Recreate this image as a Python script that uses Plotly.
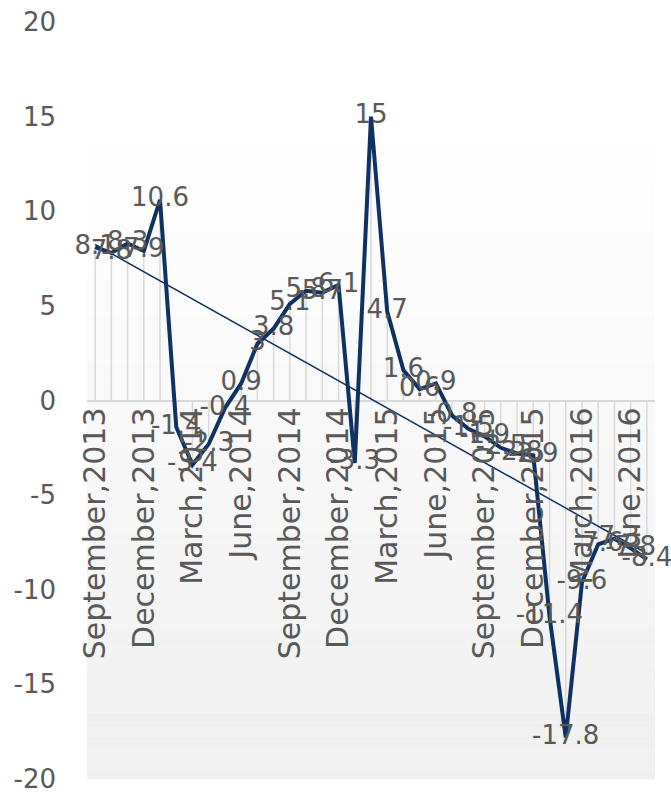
import numpy as np
import plotly.graph_objects as go

# Monthly series, September 2013 – July 2016
months = [
    "September,2013", "October,2013", "November,2013", "December,2013",
    "January,2014", "February,2014", "March,2014", "April,2014", "May,2014",
    "June,2014", "July,2014", "August,2014", "September,2014", "October,2014",
    "November,2014", "December,2014", "January,2015", "February,2015",
    "March,2015", "April,2015", "May,2015", "June,2015", "July,2015",
    "August,2015", "September,2015", "October,2015", "November,2015",
    "December,2015", "January,2016", "February,2016", "March,2016",
    "April,2016", "May,2016", "June,2016", "July,2016",
]
values = [
    8.1, 7.8, 8.3, 7.9,
    10.6, -1.4, -3.4, -2.3, -0.4, 0.9, 3.0, 3.8, 5.1, 5.8, 5.7, 6.1,
    -3.3, 15, 4.7, 1.6, 0.6, 0.9, -0.8, -1.5, -1.9, -2.5, -2.8, -2.9,
    -11.4, -17.8, -9.6, -7.6, -7.3, -7.8, -8.4,
]
# every third month carries an axis label
label_step = 3
y_ticks = [20, 15, 10, 5, 0, -5, -10, -15, -20]

FONT = "DejaVu Sans"
TEXT_GRAY = "#595959"
NAVY = "#0F3263"
DROP_GRAY = "#d9d9d9"

x = list(range(len(months)))

fig = go.Figure()

# gradient plot-area background (white at top, light grey at bottom)
steps = 80
y_lo, y_hi = -20, 20
for k in range(steps):
    y0 = y_lo + (y_hi - y_lo) * k / steps
    y1 = y_lo + (y_hi - y_lo) * (k + 1) / steps
    t = (k + 0.5) / steps  # 0 bottom -> 1 top
    g = int(round(240 + (255 - 240) * min(1.0, t * 1.15)))
    fig.add_shape(type="rect", xref="paper", yref="y", x0=0, x1=1,
                  y0=y0, y1=y1, fillcolor=f"rgb({g},{g},{g})",
                  line=dict(width=0), layer="below")

# drop lines from each point to the zero line
drop_x, drop_y = [], []
for xi, v in zip(x, values):
    drop_x += [xi, xi, None]
    drop_y += [0, v, None]
fig.add_trace(go.Scatter(x=drop_x, y=drop_y, mode="lines",
                         line=dict(color=DROP_GRAY, width=1.5),
                         hoverinfo="skip", showlegend=False))

# main series
fig.add_trace(go.Scatter(x=x, y=values, mode="lines",
                         line=dict(color=NAVY, width=4),
                         showlegend=False))

# linear trend line
slope, intercept = np.polyfit(x, values, 1)
trend = [intercept + slope * xi for xi in x]
fig.add_trace(go.Scatter(x=[x[0], x[-1]], y=[trend[0], trend[-1]],
                         mode="lines", line=dict(color=NAVY, width=1.5),
                         hoverinfo="skip", showlegend=False))

# value labels
fig.add_trace(go.Scatter(x=x, y=values, mode="text",
                         text=[f"{v:g}" for v in values],
                         textposition="middle center",
                         textfont=dict(family=FONT, size=26, color=TEXT_GRAY),
                         cliponaxis=False, hoverinfo="skip",
                         showlegend=False))

tick_idx = list(range(0, len(months), label_step))
fig.update_layout(
    width=671, height=795,
    margin=dict(l=87, r=16, t=22, b=16),
    paper_bgcolor="white", plot_bgcolor="white",
    font=dict(family=FONT, color=TEXT_GRAY),
    xaxis=dict(
        range=[-0.5, len(months) - 0.5],
        tickmode="array", tickvals=tick_idx,
        ticktext=[months[i] for i in tick_idx],
        tickangle=-90, tickfont=dict(family=FONT, size=30, color=TEXT_GRAY),
        showgrid=False, zeroline=False, showline=False,
        anchor="free", position=0.5, automargin=False, ticks="",
    ),
    yaxis=dict(
        range=[-20, 20], tickmode="array", tickvals=y_ticks,
        ticktext=[str(v) for v in y_ticks],
        tickfont=dict(family=FONT, size=26, color=TEXT_GRAY),
        showgrid=False, zeroline=True, zerolinecolor=DROP_GRAY,
        zerolinewidth=1.5, showline=False, automargin=False,
        ticklabelstandoff=30,
    ),
)

fig.write_html("out.html")
